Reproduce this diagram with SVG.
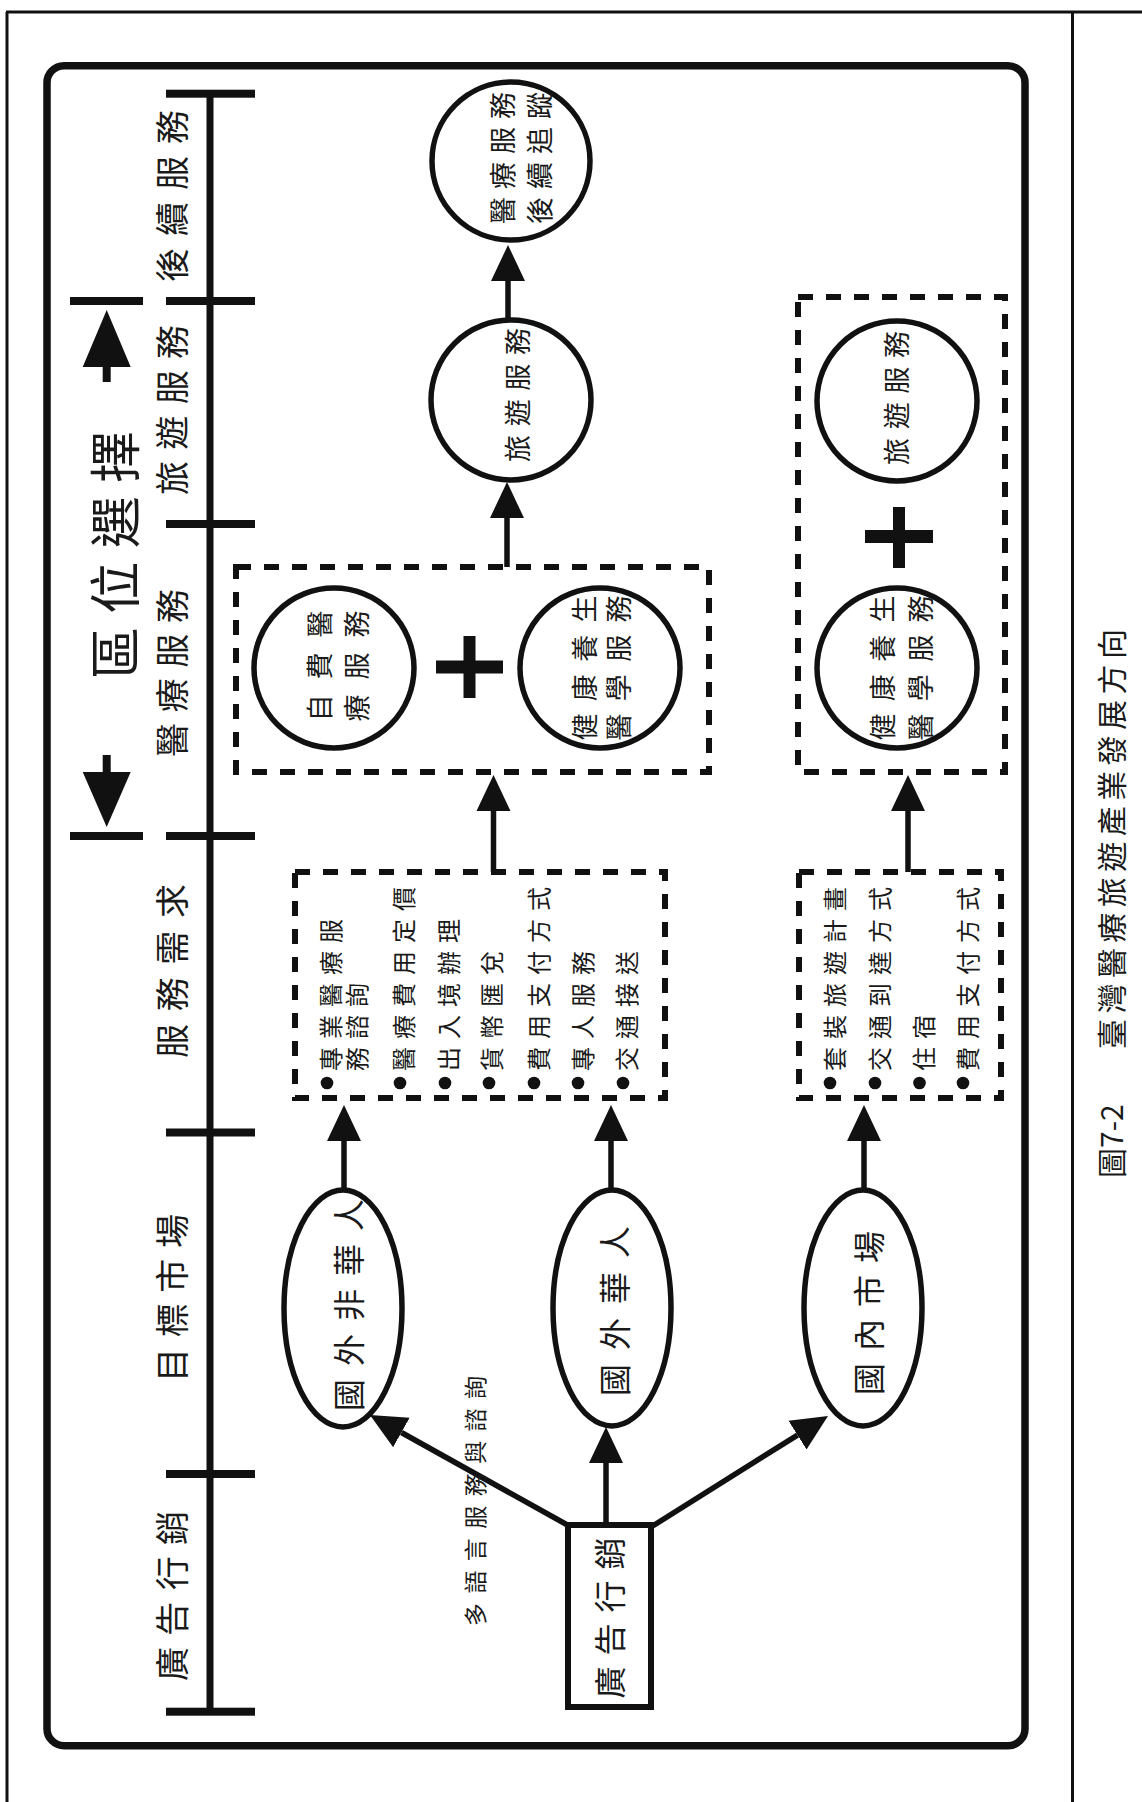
<svg xmlns="http://www.w3.org/2000/svg" width="1142" height="1802" viewBox="0 0 1142 1802">
<style>
text{font-family:"Noto Sans CJK TC","Noto Sans CJK SC",sans-serif;fill:#1a1a1a}
.c{text-anchor:middle;dominant-baseline:central}
.s{text-anchor:start;dominant-baseline:central}
.h{font-size:34px}
.n{font-size:27px}
.e{font-size:32px}
.li{font-size:24px}
.node{fill:#fff;stroke:#111;stroke-width:5.5}
.dash{fill:none;stroke:#111;stroke-width:6;stroke-dasharray:15 13}
.bar{fill:#111}
.conn line{stroke:#111;stroke-width:5.5;marker-end:url(#ah)}
</style>
<defs>
<marker id="ah" markerUnits="userSpaceOnUse" markerWidth="36" markerHeight="36" viewBox="0 0 36 36" refX="0" refY="18" orient="auto">
<path d="M0,1 L36,18 L0,35 z" fill="#111"/>
</marker>
</defs>
<rect width="1142" height="1802" fill="#fff"/>
<!-- outer page frame -->
<g id="frame" stroke="#111" stroke-width="3" fill="none">
<line x1="6" y1="12" x2="1142" y2="12"/>
<line x1="7" y1="12" x2="7" y2="1802"/>
<line x1="1072.5" y1="12" x2="1072.5" y2="1802"/>
</g>
<rect id="panel" x="47" y="65.7" width="978" height="1680" rx="17" fill="none" stroke="#111" stroke-width="7.5"/>

<!-- header axis -->
<g id="axis">
<rect class="bar" x="206.5" y="93.7" width="7" height="1618"/>
<rect class="bar" x="166" y="89.7" width="89" height="8"/>
<rect class="bar" x="166" y="297" width="89" height="8"/>
<rect class="bar" x="166" y="520" width="89" height="8"/>
<rect class="bar" x="166" y="832" width="89" height="8"/>
<rect class="bar" x="166" y="1128.5" width="89" height="8"/>
<rect class="bar" x="166" y="1470" width="89" height="8"/>
<rect class="bar" x="166" y="1707.7" width="89" height="8"/>
<text class="c h" transform="translate(170,196) rotate(-90)" textLength="172" lengthAdjust="spacing">後續服務</text>
<text class="c h" transform="translate(170,410) rotate(-90)" textLength="170" lengthAdjust="spacing">旅遊服務</text>
<text class="c h" transform="translate(170,673) rotate(-90)" textLength="168" lengthAdjust="spacing">醫療服務</text>
<text class="c h" transform="translate(170,971) rotate(-90)" textLength="174" lengthAdjust="spacing">服務需求</text>
<text class="c h" transform="translate(170,1298) rotate(-90)" textLength="168" lengthAdjust="spacing">目標市場</text>
<text class="c h" transform="translate(170,1596) rotate(-90)" textLength="170" lengthAdjust="spacing">廣告行銷</text>
</g>

<!-- 區位選擇 bracket -->
<g id="zone">
<rect class="bar" x="70" y="297" width="73" height="8"/>
<rect class="bar" x="70" y="832" width="73" height="8"/>
<path class="bar" d="M106.7,310 L130.7,367 L110.7,367 L110.7,382 L102.7,382 L102.7,367 L82.7,367 Z"/>
<path class="bar" d="M106.7,827 L130.7,772 L110.7,772 L110.7,755 L102.7,755 L102.7,772 L82.7,772 Z"/>
<text class="c" style="font-size:52px" transform="translate(112,555) rotate(-90)" textLength="248" lengthAdjust="spacing">區位選擇</text>
</g>

<!-- connectors -->
<g id="connectors" class="conn">
<line x1="508" y1="320" x2="508" y2="281"/>
<line x1="507" y1="567" x2="507" y2="518"/>
<line x1="493.5" y1="872" x2="493.5" y2="811"/>
<line x1="908" y1="872" x2="908" y2="811"/>
<line x1="344" y1="1190" x2="344" y2="1141"/>
<line x1="611" y1="1190" x2="611" y2="1141"/>
<line x1="864" y1="1190" x2="864" y2="1141"/>
<line x1="606" y1="1525" x2="606" y2="1463"/>
<line x1="571" y1="1527" x2="401.4" y2="1432.5"/>
<line x1="651" y1="1527" x2="797.5" y2="1435.1"/>
<text class="c" style="font-size:23px" transform="translate(474,1501) rotate(-90)" textLength="250" lengthAdjust="spacing">多語言服務與諮詢</text>
</g>

<!-- top circle -->
<g id="n-followup">
<circle class="node" cx="511" cy="161" r="79"/>
<text class="c n" transform="translate(501,158) rotate(-90)" textLength="132" lengthAdjust="spacing">醫療服務</text>
<text class="c n" transform="translate(538,158) rotate(-90)" textLength="132" lengthAdjust="spacing">後續追蹤</text>
</g>

<g id="n-travel1">
<circle class="node" cx="511" cy="400" r="80"/>
<text class="c n" transform="translate(516,395) rotate(-90)" textLength="134" lengthAdjust="spacing">旅遊服務</text>
</g>

<!-- medical group box 1 -->
<g id="g-medical1">
<rect class="dash" x="236" y="567" width="473" height="205"/>
<circle class="node" cx="334" cy="668" r="80"/>
<text class="c n" transform="translate(318.5,666) rotate(-90)" textLength="111" lengthAdjust="spacing">自費醫</text>
<text class="c n" transform="translate(355,666) rotate(-90)" textLength="111" lengthAdjust="spacing">療服務</text>
<rect class="bar" x="436" y="660.5" width="67" height="13"/>
<rect class="bar" x="463.5" y="636" width="12" height="62"/>
<circle class="node" cx="600" cy="668" r="80"/>
<text class="c n" transform="translate(583,668) rotate(-90)" textLength="145" lengthAdjust="spacing">健康養生</text>
<text class="c n" transform="translate(617,668) rotate(-90)" textLength="145" lengthAdjust="spacing">醫學服務</text>
</g>

<!-- medical group box 2 -->
<g id="g-medical2">
<rect class="dash" x="798" y="297" width="207" height="475"/>
<circle class="node" cx="897" cy="401" r="80"/>
<text class="c n" transform="translate(895,398) rotate(-90)" textLength="134" lengthAdjust="spacing">旅遊服務</text>
<rect class="bar" x="865" y="530" width="68" height="13"/>
<rect class="bar" x="893" y="507" width="12" height="61"/>
<circle class="node" cx="897" cy="668" r="80"/>
<text class="c n" transform="translate(881,668) rotate(-90)" textLength="145" lengthAdjust="spacing">健康養生</text>
<text class="c n" transform="translate(919,668) rotate(-90)" textLength="145" lengthAdjust="spacing">醫學服務</text>
</g>

<!-- service needs list 1 -->
<g id="g-needs1">
<rect class="dash" x="295" y="872" width="370" height="226"/>
<g fill="#111">
<circle cx="327" cy="1083" r="6.3"/>
<circle cx="400" cy="1083" r="6.3"/>
<circle cx="445" cy="1083" r="6.3"/>
<circle cx="489" cy="1083" r="6.3"/>
<circle cx="534" cy="1083" r="6.3"/>
<circle cx="578" cy="1083" r="6.3"/>
<circle cx="623" cy="1083" r="6.3"/>
</g>
<text class="s li" transform="translate(329.5,1071) rotate(-90)" textLength="152" lengthAdjust="spacing">專業醫療服</text>
<text class="s li" transform="translate(355,1071) rotate(-90)" textLength="88" lengthAdjust="spacing">務諮詢</text>
<text class="s li" transform="translate(402,1071) rotate(-90)" textLength="184" lengthAdjust="spacing">醫療費用定價</text>
<text class="s li" transform="translate(447,1071) rotate(-90)" textLength="152" lengthAdjust="spacing">出入境辦理</text>
<text class="s li" transform="translate(490,1071) rotate(-90)" textLength="120" lengthAdjust="spacing">貨幣匯兌</text>
<text class="s li" transform="translate(537,1071) rotate(-90)" textLength="184" lengthAdjust="spacing">費用支付方式</text>
<text class="s li" transform="translate(581,1071) rotate(-90)" textLength="120" lengthAdjust="spacing">專人服務</text>
<text class="s li" transform="translate(625,1071) rotate(-90)" textLength="120" lengthAdjust="spacing">交通接送</text>
</g>

<!-- service needs list 2 -->
<g id="g-needs2">
<rect class="dash" x="799" y="872" width="202" height="226"/>
<g fill="#111">
<circle cx="830" cy="1083" r="6.3"/>
<circle cx="875" cy="1083" r="6.3"/>
<circle cx="919.5" cy="1083" r="6.3"/>
<circle cx="963" cy="1083" r="6.3"/>
</g>
<text class="s li" transform="translate(833,1071) rotate(-90)" textLength="184" lengthAdjust="spacing">套裝旅遊計畫</text>
<text class="s li" transform="translate(878,1071) rotate(-90)" textLength="184" lengthAdjust="spacing">交通到達方式</text>
<text class="s li" transform="translate(922,1071) rotate(-90)" textLength="56" lengthAdjust="spacing">住宿</text>
<text class="s li" transform="translate(966,1071) rotate(-90)" textLength="184" lengthAdjust="spacing">費用支付方式</text>
</g>

<!-- target markets -->
<g id="n-foreign-nonchinese">
<ellipse class="node" cx="343" cy="1308.5" rx="59" ry="118.5"/>
<text class="c e" transform="translate(347,1305) rotate(-90)" textLength="212" lengthAdjust="spacing">國外非華人</text>
</g>
<g id="n-foreign-chinese">
<ellipse class="node" cx="612" cy="1308" rx="59" ry="118"/>
<text class="c e" transform="translate(613,1311) rotate(-90)" textLength="170" lengthAdjust="spacing">國外華人</text>
</g>
<g id="n-domestic">
<ellipse class="node" cx="863" cy="1308" rx="59" ry="118"/>
<text class="c e" transform="translate(867,1313) rotate(-90)" textLength="164" lengthAdjust="spacing">國內市場</text>
</g>

<!-- advertising box -->
<g id="n-ad">
<rect x="568" y="1525" width="83" height="182" fill="#fff" stroke="#111" stroke-width="6"/>
<text class="c e" transform="translate(608,1618) rotate(-90)" textLength="161" lengthAdjust="spacing">廣告行銷</text>
</g>

<!-- caption -->
<g id="caption">
<text class="s" style="font-size:30px" transform="translate(1110,1178) rotate(-90)">圖7-2</text>
<text class="s" style="font-size:30px" transform="translate(1110,1049) rotate(-90)" textLength="420" lengthAdjust="spacing">臺灣醫療旅遊產業發展方向</text>
</g>
</svg>
